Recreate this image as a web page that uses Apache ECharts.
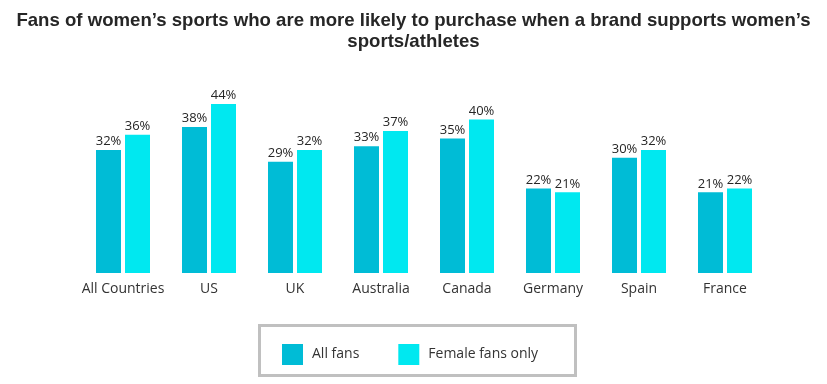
<!DOCTYPE html>
<html><head><meta charset="utf-8">
<script src="https://cdn.jsdelivr.net/npm/echarts@6/dist/echarts.min.js"></script>
<style>html,body{margin:0;padding:0;background:#fff}#c{width:827px;height:384px}</style>
</head><body><div id="c"></div>
<script>
const categories = ['All Countries','US','UK','Australia','Canada','Germany','Spain','France'];
const allFans = [32,38,29,33,35,22,30,21];
const femaleFans = [36,44,32,37,40,21,32,22];
const seriesNames = ['All fans','Female fans only'];
const titleText = 'Fans of women\u2019s sports who are more likely to purchase when a brand supports women\u2019s\nsports/athletes';

const chart = echarts.init(document.getElementById('c'));
const labelFont = '"Open Sans", sans-serif';
const mkLabel = {show:true, position:'top', distance:2, formatter:'{c}%', color:'#262626', fontSize:13, fontFamily:labelFont};
chart.setOption({
  animation:false,
  title:{text:titleText, left:'center', top:5, textStyle:{fontFamily:'"Liberation Sans Narrow", sans-serif', fontWeight:'bold', fontSize:18.6, lineHeight:21, color:'#262626'}},
  grid:{left:80, right:59, top:81, bottom:111},
  xAxis:{type:'category', data:categories, axisLine:{show:false}, axisTick:{show:false},
    axisLabel:{interval:0, color:'#333', fontSize:14, fontFamily:labelFont, margin:9}},
  yAxis:{type:'value', min:0, max:50, show:false},
  legend:{left:277, top:339, itemWidth:21, itemHeight:21, itemGap:39, icon:'rect',
    textStyle:{fontSize:14, fontFamily:labelFont, color:'#333', padding:[0,0,0,4]}, data:seriesNames},
  graphic:[{type:'rect', shape:{x:259.5, y:325.5, width:316, height:50}, style:{fill:'none', stroke:'#c0c0c0', lineWidth:3}}],
  series:[
    {name:seriesNames[0], type:'bar', data:allFans, barWidth:25, barGap:'16%', barCategoryGap:'37%', itemStyle:{color:'#00bcd6'}, label:mkLabel},
    {name:seriesNames[1], type:'bar', data:femaleFans, barWidth:25, itemStyle:{color:'#00e8f0'}, label:mkLabel}
  ]
});
</script></body></html>
